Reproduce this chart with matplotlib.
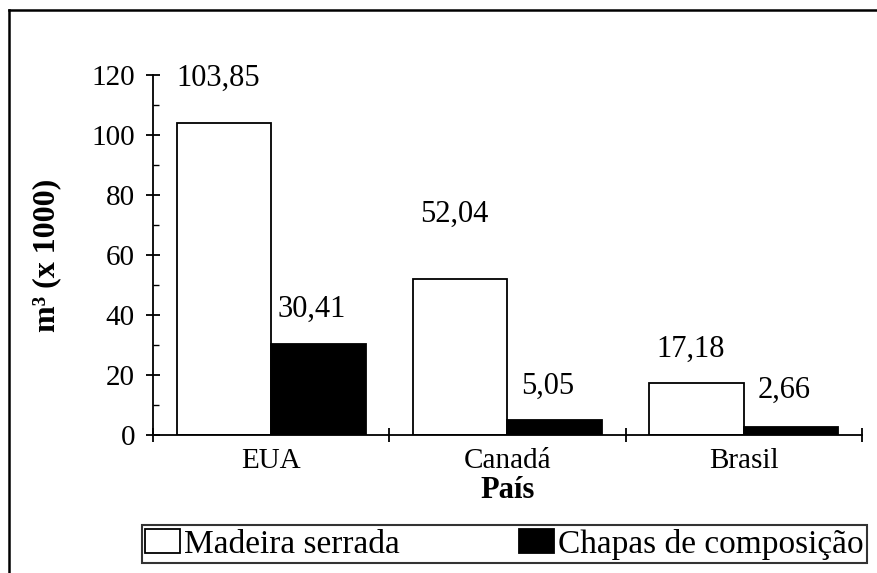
import matplotlib.pyplot as plt
import numpy as np
from matplotlib.lines import Line2D

paises = ["EUA", "Canadá", "Brasil"]
madeira_serrada = [103.85, 52.04, 17.18]
chapas_composicao = [30.41, 5.05, 2.66]
rotulos_madeira = ["103,85", "52,04", "17,18"]
rotulos_chapas = ["30,41", "5,05", "2,66"]

plt.rcParams['font.family'] = ['Liberation Serif', 'DejaVu Serif']

fig = plt.figure(figsize=(8.78, 5.73), dpi=100)
ax = fig.add_axes([153/878, 138/573, 709/878, 360/573])

x = np.arange(len(paises))
w = 0.40
b1 = ax.bar(x - w/2, madeira_serrada, w, color='white', edgecolor='black', linewidth=1.3,
            label='Madeira serrada')
b2 = ax.bar(x + w/2, chapas_composicao, w, color='black', edgecolor='black', linewidth=1.3,
            label='Chapas de composição')

# rótulos de dados (deslocamento extra em pontos, acima da barra)
extra_madeira = [12, 26, 4]
extra_chapas = [4, 4, 6]
for rect, txt, dy in zip(b1, rotulos_madeira, extra_madeira):
    ax.annotate(txt, (rect.get_x() + rect.get_width()/2, rect.get_height()),
                xytext=(-4, 10 + dy), textcoords='offset points',
                ha='center', va='bottom', fontsize=22)
for rect, txt, dy in zip(b2, rotulos_chapas, extra_chapas):
    ax.annotate(txt, (rect.get_x() + rect.get_width()/2, rect.get_height()),
                xytext=(-5, 10 + dy), textcoords='offset points',
                ha='center', va='bottom', fontsize=22)

ax.set_xlim(-0.5, 2.5)
ax.set_ylim(0, 120)
ax.set_yticks(range(0, 121, 20))
ax.set_yticks(range(10, 120, 20), minor=True)
ax.set_xticks(x)
ax.set_xticklabels(paises)
ax.set_xticks([-0.5, 0.5, 1.5, 2.5], minor=True)

for s in ['top', 'right']:
    ax.spines[s].set_visible(False)
for s in ['left', 'bottom']:
    ax.spines[s].set_linewidth(1.3)

ax.tick_params(axis='y', which='major', direction='inout', length=10, width=1.3,
               labelsize=21, pad=8)
ax.tick_params(axis='y', which='minor', direction='in', length=4, width=1.0)
ax.tick_params(axis='x', which='major', length=0, labelsize=21, pad=9)
ax.tick_params(axis='x', which='minor', direction='inout', length=10, width=1.3)

ax.set_xlabel("País", fontsize=22, fontweight='bold', labelpad=2)
ax.set_ylabel("m³ (x 1000)", fontsize=23, fontweight='bold', labelpad=22)

leg = fig.legend(handles=[b1, b2], loc='lower left', ncol=2, mode='expand',
                 bbox_to_anchor=(142/878, 10/573, 725/878, 43/573),
                 fontsize=24, frameon=True, fancybox=False, edgecolor='black',
                 handlelength=1.05, handleheight=0.7, handletextpad=0.12,
                 borderpad=0.1, borderaxespad=0)
leg.get_frame().set_linewidth(1.5)

# moldura escaneada (linhas superior e esquerda)
fig.add_artist(Line2D([9/878, 1], [1 - 10/573, 1 - 10/573], color='black', lw=1.8,
                      transform=fig.transFigure))
fig.add_artist(Line2D([9/878, 9/878], [0, 1 - 10/573], color='black', lw=1.8,
                      transform=fig.transFigure))

fig.savefig("out.png", dpi=100)
